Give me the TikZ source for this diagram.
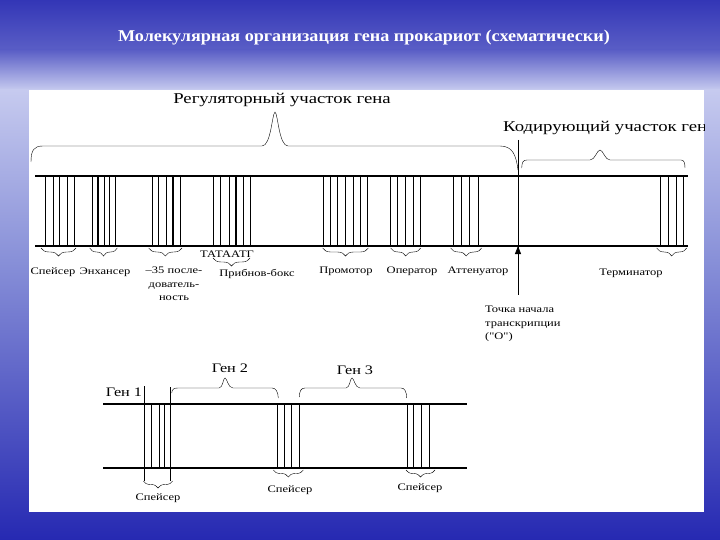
\documentclass[tikz,border=0pt]{standalone}
\usepackage{fontspec}
\setmainfont{Liberation Serif}
\newfontfamily\widefont[FakeStretch=1.25]{Liberation Serif}
\newfontfamily\titlefont[FakeStretch=1.1]{Liberation Serif}
\usetikzlibrary{decorations.pathreplacing,arrows.meta}
\definecolor{slidetop}{HTML}{3336B6}
\definecolor{slidemid}{HTML}{5A5EC6}
\definecolor{slidelight}{HTML}{C6CAEF}
\definecolor{slideside}{HTML}{8890D8}
\definecolor{slidedark}{HTML}{2629B2}
\tikzset{
  lbl/.style={font=\widefont\fontsize{10}{13.5}\selectfont, inner sep=0pt},
  genlbl/.style={font=\widefont\fontsize{13}{14}\selectfont, inner sep=0pt},
  biglbl/.style={font=\widefont\fontsize{15}{17}\selectfont, inner sep=0pt},
  strand/.style={line width=1.1pt},
  curly/.style={decorate, decoration={brace, mirror, amplitude=#1}},
  curly/.default=8pt
}
\begin{document}
\begin{tikzpicture}[x=1pt,y=-1pt]
\useasboundingbox (0,0) rectangle (720,540);
\fill[slidedark] (0,0) rectangle (720,540);
\shade[top color=slidetop, bottom color=slidemid] (0,0) rectangle (720,50);
\shade[top color=slidemid, bottom color=slidelight] (0,50) rectangle (720,90);
\shade[top color=slidelight, bottom color=slideside] (0,90) rectangle (720,260);
\shade[top color=slideside, bottom color=slidedark] (0,260) rectangle (720,540);
\fill[white] (29,90) rectangle (704,512);
\node[text=white, font=\titlefont\bfseries\fontsize{16.5}{19}\selectfont] (title) at (364,38) {Молекулярная организация гена прокариот (схематически)};

\draw[strand] (35,176) -- (688,176);
\draw[strand] (35,246) -- (688,246);
\foreach \x in {45.3,59.7,74.7,98,109.7,158.7,173,220.7,236,250.7,330.5,345.5,360.5,397.3,413.3,461.7,478.3,668.3,683.3}
  \draw[line width=1.1pt] (\x,176) -- (\x,246);
\foreach \x in {53,67.3,92,104,115.3,152,166.3,180.7,213.3,229.3,243,323.5,337.7,353,367.5,390.7,405.7,420.7,453.3,469.3,660,676}
  \draw[line width=0.6pt] (\x,176) -- (\x,246);

\draw (31,162) .. controls (31,150) and (34,146) .. (43,146) -- (262,146) .. controls (271,146) and (272,114) .. (275,112) .. controls (278,114) and (279,146) .. (288,146) -- (500,146) .. controls (512,146) and (516,154) .. (518,170);
\draw (521.7,168) .. controls (522,162) and (523,160) .. (527,160) -- (590,160) .. controls (595,160) and (597,150) .. (600,150) .. controls (603,150) and (605,160) .. (610,160) -- (681,160) .. controls (684,160) and (685,163) .. (685,168);
\node[biglbl] (reg) at (282,100) {Регуляторный участок гена};
\begin{scope}
\clip (29,90) rectangle (704,512);
\node[biglbl, anchor=west] (cod) at (503,128) {Кодирующий участок гена};
\end{scope}

\coordinate (start) at (518,246);
\draw[line width=0.8pt] (518,140) -- (518,295);
\draw[line width=0.8pt, -{Triangle[length=8pt,width=6pt]}] (518,270) -- (start);

\draw[curly] (41,248) -- (76,248);
\draw[curly] (89.7,248) -- (117.3,248);
\draw[curly] (148.7,248) -- (182,248);
\draw[curly] (213,258) -- (250,258);
\draw[curly] (322.7,248) -- (368.3,248);
\draw[curly] (390.7,248) -- (420.7,248);
\draw[curly] (450.7,248) -- (481.7,248);
\draw[curly] (656.7,248) -- (686.7,248);

\node[lbl] (spacer) at (53,272) {Спейсер};
\node[lbl] (enhancer) at (105,272) {Энхансер};
\node[lbl, align=center, anchor=north] (minus35) at (174,267) {–35 после-\\дователь-\\ность};
\node[lbl] (tata) at (227,254) {ТАТААТГ};
\node[lbl] (pribnow) at (257,274) {Прибнов-бокс};
\node[lbl] (promoter) at (346,271) {Промотор};
\node[lbl] (operator) at (412,271) {Оператор};
\node[lbl] (attenuator) at (478,271) {Аттенуатор};
\node[lbl] (terminator) at (631,273) {Терминатор};
\node[lbl, align=left, anchor=north west] (tss) at (485,306) {Точка начала\\транскрипции\\("О")};

\draw[strand] (103,404) -- (467,404);
\draw[strand] (103,468) -- (467,468);
\draw[line width=1.1pt] (144.3,386) -- (144.3,481);
\draw[line width=1.1pt] (170.7,387) -- (170.7,481);
\foreach \x in {151.7,159.3,164,277.3,284.3,291,299,407.3,413.3,421.7,429.3}
  \draw[line width=0.9pt] (\x,404) -- (\x,468);
\draw (171.7,393) .. controls (172,389) and (174,388) .. (178,388) -- (219,388) .. controls (223,388) and (223,378) .. (225,378) .. controls (227,378) and (228,388) .. (233,388) -- (272,388) .. controls (276,388) and (278,392) .. (278.3,398);
\draw (299.3,397) .. controls (299.5,391) and (301,388) .. (305,388) -- (346,388) .. controls (350,388) and (350,378) .. (352,378) .. controls (354,378) and (355,388) .. (360,388) -- (401,388) .. controls (405,388) and (406.5,392) .. (406.7,398);
\draw[curly=7pt] (143.3,481) -- (172.7,481);
\draw[curly=7pt] (273.3,470) -- (303.3,470);
\draw[curly=7pt] (406,470) -- (435,470);
\node[genlbl] (gene1) at (124,392) {Ген 1};
\node[genlbl] (gene2) at (230,368) {Ген 2};
\node[genlbl] (gene3) at (355,370) {Ген 3};
\node[lbl] (spacer1) at (158,498) {Спейсер};
\node[lbl] (spacer2) at (290,490) {Спейсер};
\node[lbl] (spacer3) at (420,488) {Спейсер};
\end{tikzpicture}
\end{document}
